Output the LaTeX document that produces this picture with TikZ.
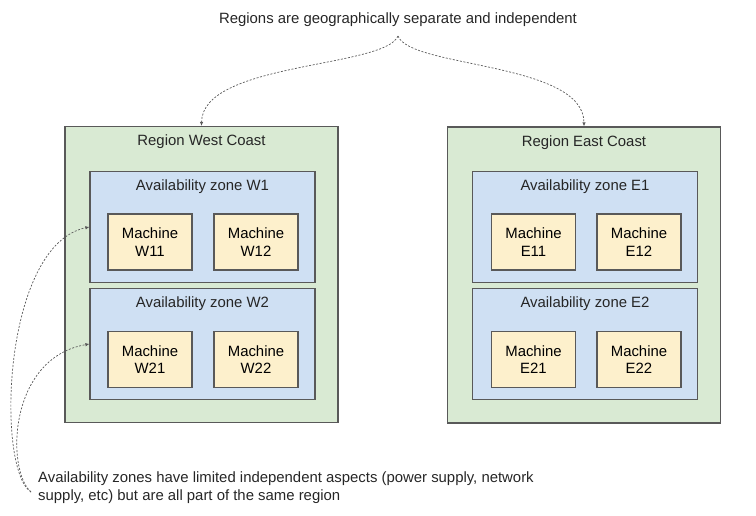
\documentclass[tikz,border=0pt]{standalone}
\usepackage{fontspec}
\setmainfont{Liberation Sans}
\usepackage{xcolor}
\usetikzlibrary{arrows.meta}
\definecolor{region-green}{HTML}{D9EAD3}
\definecolor{zone-blue}{HTML}{CFE0F3}
\definecolor{machine-yellow}{HTML}{FDF0CC}
\definecolor{edge-gray}{HTML}{595959}
\definecolor{text-gray}{HTML}{262626}
\tikzset{
    region-box/.style = {draw=edge-gray, fill=region-green, line width=1.2pt, rectangle, minimum width=273pt, minimum height=296pt},
    zone-box/.style = {draw=edge-gray, fill=zone-blue, line width=1.2pt, rectangle, minimum width=225pt, minimum height=111pt},
    machine-box/.style = {draw=edge-gray, fill=machine-yellow, line width=1.2pt, rectangle, minimum width=84pt, minimum height=56pt, align=center, inner sep=0pt},
    box-title/.style = {text=text-gray, inner sep=0pt},
    note-text/.style = {text=text-gray, inner sep=0pt, align=left},
    note-arrow/.style = {draw=edge-gray, line width=0.7pt, dash pattern=on 2pt off 1.6pt, -{Latex[length=4pt,width=3.5pt]}},
}

\begin{document}
\begin{tikzpicture}[x=1pt, y=-1pt, font=\fontsize{14.9}{17.5}\selectfont]
\useasboundingbox (0,0) rectangle (756,515);

% regions
\node [region-box] (reg-west) at (201.5,274.5) {};
\node [region-box] (reg-east) at (584,275) {};
\node [box-title] at ([yshift=-16pt]reg-west.north) {Region West Coast};
\node [box-title] at ([yshift=-16pt]reg-east.north) {Region East Coast};

% availability zones
\node [zone-box] (zone-w1) at (202.5,227) {};
\node [zone-box] (zone-w2) at (202.5,344) {};
\node [zone-box] (zone-e1) at (585,227) {};
\node [zone-box] (zone-e2) at (585,344) {};
\node [box-title] at ([yshift=-16pt]zone-w1.north) {Availability zone W1};
\node [box-title] at ([yshift=-16pt]zone-w2.north) {Availability zone W2};
\node [box-title] at ([yshift=-16pt]zone-e1.north) {Availability zone E1};
\node [box-title] at ([yshift=-16pt]zone-e2.north) {Availability zone E2};

% machines
\node [machine-box] (mach-w11) at (150,242) {Machine\\W11};
\node [machine-box] (mach-w12) at (256,242) {Machine\\W12};
\node [machine-box] (mach-w21) at (150,359.5) {Machine\\W21};
\node [machine-box] (mach-w22) at (256,359.5) {Machine\\W22};
\node [machine-box] (mach-e11) at (533.5,242) {Machine\\E11};
\node [machine-box] (mach-e12) at (639,242) {Machine\\E12};
\node [machine-box] (mach-e21) at (533.5,359.5) {Machine\\E21};
\node [machine-box] (mach-e22) at (639,359.5) {Machine\\E22};

% notes
\node [note-text] (region-note) at (398,20) {Regions are geographically separate and independent};
\node [note-text, anchor=west] (zone-note) at (38,487.5) {Availability zones have limited independent aspects (power supply, network\\supply, etc) but are all part of the same region};
\coordinate (region-src) at (398,36);
\coordinate (zone-src) at (31,492);

\draw [note-arrow] (region-src) .. controls (385,68) and (202,62) .. (reg-west.north);
\draw [note-arrow] (region-src) .. controls (410,68) and (584,62) .. (reg-east.north);
\draw [note-arrow] (zone-src) .. controls (-4,470) and (2,245) .. (zone-w1.west);
\draw [note-arrow] (zone-src) .. controls (6,470) and (8,358) .. (zone-w2.west);
\end{tikzpicture}
\end{document}
